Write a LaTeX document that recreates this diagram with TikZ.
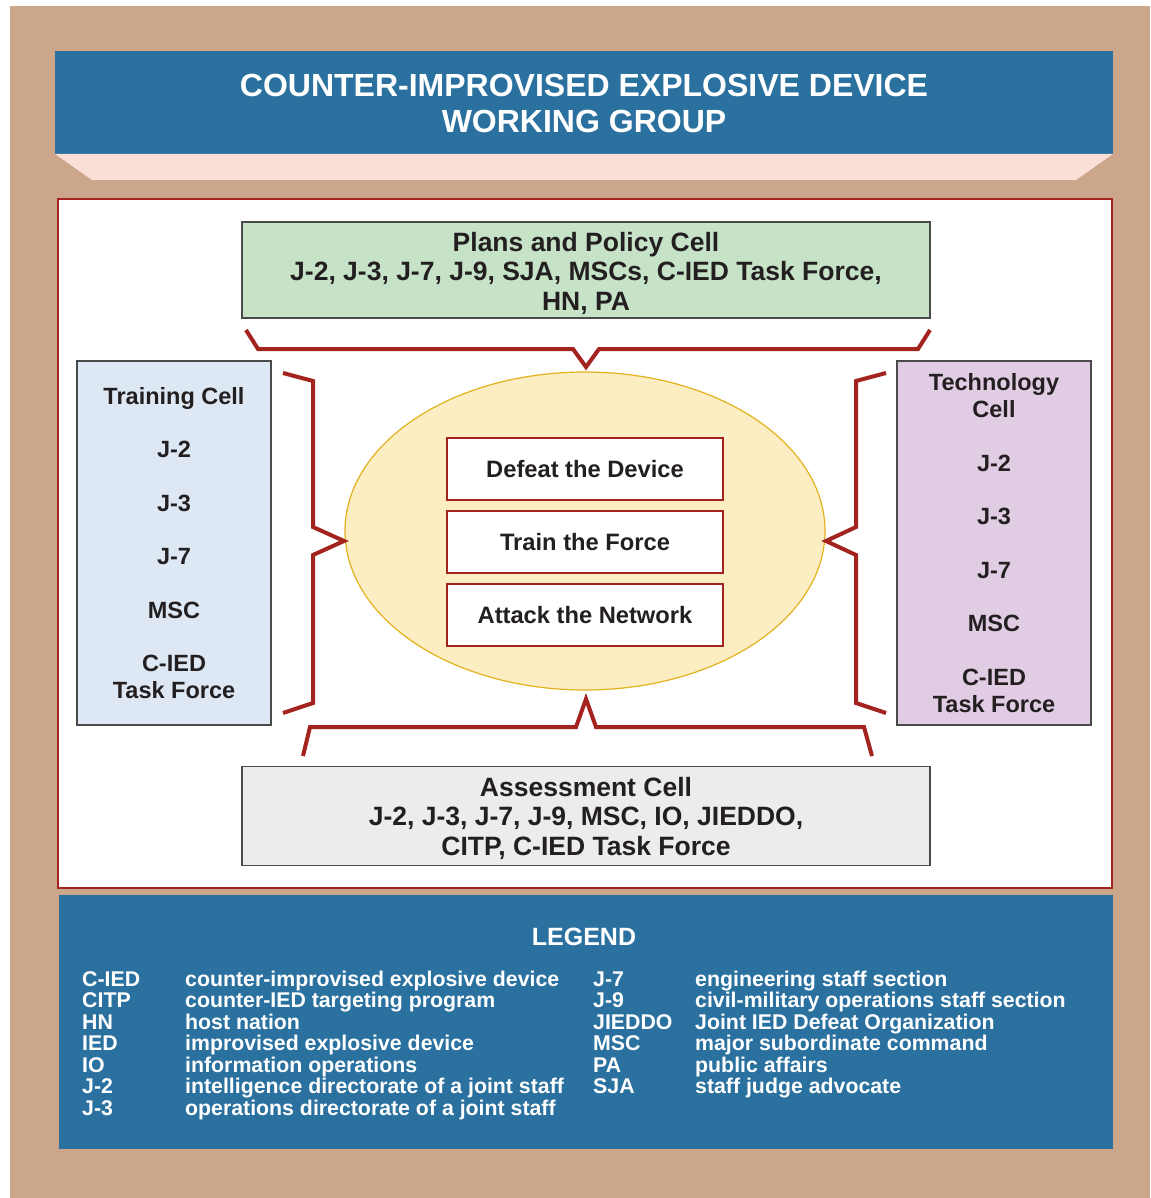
\documentclass[tikz,border=0pt]{standalone}
\usepackage{fontspec}
\setmainfont{Liberation Sans}
\usetikzlibrary{shapes.geometric}
\definecolor{tanbg}{HTML}{CCA68A}
\definecolor{titleblue}{HTML}{2B71A0}
\definecolor{pinkband}{HTML}{F9DFD5}
\definecolor{redline}{HTML}{A3231F}
\definecolor{boxline}{HTML}{4A4A4A}
\definecolor{inktext}{HTML}{231F20}
\definecolor{plansfill}{HTML}{C6E3C8}
\definecolor{trainfill}{HTML}{DEE8F5}
\definecolor{techfill}{HTML}{E0CCE3}
\definecolor{assessfill}{HTML}{ECECEC}
\definecolor{ovalfill}{HTML}{FDEDC3}
\definecolor{ovalline}{HTML}{E2B21C}
\newcommand{\cellgap}{26.5pt}

\begin{document}
\begin{tikzpicture}[x=1pt, y=-1pt,
    cellbox/.style={draw=boxline, line width=1.2pt, inner sep=0pt, align=center, text=inktext,
        font=\fontsize{26.5}{29.5}\selectfont\bfseries},
    sidebox/.style={cellbox, minimum width=194pt, minimum height=364pt,
        font=\fontsize{23.5}{27}\selectfont\bfseries},
    taskbox/.style={draw=redline, line width=2pt, fill=white, minimum width=276pt, minimum height=62pt,
        text=inktext, font=\fontsize{23.7}{27}\selectfont\bfseries},
    brace/.style={draw=redline, line width=4pt, line join=miter},
    legtext/.style={anchor=base west, inner sep=0pt, text=white, font=\fontsize{21.3}{21.5}\selectfont\bfseries}]

    % background
    \fill[white] (0,0) rectangle (1150,1198);
    \fill[tanbg] (10,6) rectangle (1150,1198);
    \fill[titleblue] (55,51) rectangle (1113,154);
    \fill[pinkband] (55,154) -- (1113,154) -- (1076,180) -- (92,180) -- cycle;
    \node[align=center, text=white, font=\fontsize{32}{36}\selectfont\bfseries] (title) at (584,103)
        {COUNTER-IMPROVISED EXPLOSIVE DEVICE\\WORKING GROUP};
    \draw[redline, fill=white, line width=2pt] (58,199) rectangle (1112,888);

    % cells
    \node[cellbox, fill=plansfill, minimum width=688pt, minimum height=96pt] (plans) at (586,270) {};
    \node[align=center, text=inktext, font=\fontsize{26.5}{29.5}\selectfont\bfseries] (planstext) at (586,273)
        {Plans and Policy Cell\\J-2, J-3, J-7, J-9, SJA, MSCs, C-IED Task Force,\\HN, PA};
    \node[sidebox, fill=trainfill] (training) at (174,543)
        {Training Cell\\[\cellgap]J-2\\[\cellgap]J-3\\[\cellgap]J-7\\[\cellgap]MSC\\[\cellgap]C-IED\\Task Force};
    \node[sidebox, fill=techfill] (tech) at (994,543)
        {Technology\\Cell\\[\cellgap]J-2\\[\cellgap]J-3\\[\cellgap]J-7\\[\cellgap]MSC\\[\cellgap]C-IED\\Task Force};
    \node[cellbox, fill=assessfill, minimum width=688pt, minimum height=99pt] (assess) at (586,816) {};
    \node[align=center, text=inktext, font=\fontsize{26.5}{29.5}\selectfont\bfseries] (assesstext) at (586,818)
        {Assessment Cell\\J-2, J-3, J-7, J-9, MSC, IO, JIEDDO,\\CITP, C-IED Task Force};

    % lines of effort
    \node[ellipse, draw=ovalline, fill=ovalfill, line width=1.2pt, minimum width=480pt, minimum height=318pt] (oval) at (585,531) {};
    \node[taskbox] (defeat) at (585,469) {Defeat the Device};
    \node[taskbox] (train) at (585,542) {Train the Force};
    \node[taskbox] (attack) at (585,615) {Attack the Network};

    % braces
    \draw[brace] (246,330) -- (258,349) -- (573,349) -- (586,367) -- (599,349) -- (918,349) -- (930,330);
    \draw[brace] (283,373) -- (313,381) -- (313,527) -- (344,541) -- (313,555) -- (313,703) -- (283,713);
    \draw[brace] (886,373) -- (856,381) -- (856,527) -- (826,541) -- (856,555) -- (856,703) -- (886,713);
    \draw[brace] (303,756) -- (310,727) -- (576,727) -- (586,699) -- (596,727) -- (864,727) -- (872,756);

    % legend
    \fill[titleblue] (59,895) rectangle (1113,1149);
    \node[text=white, font=\fontsize{25}{30}\selectfont\bfseries] (legend) at (584,937) {LEGEND};
    \foreach \shortname/\longname [count=\i] in {C-IED/counter-improvised explosive device,
        CITP/counter-IED targeting program, HN/host nation, IED/improvised explosive device,
        IO/information operations, J-2/intelligence directorate of a joint staff,
        J-3/operations directorate of a joint staff}{
        \node[legtext] (abbrL\i) at (82,{979+21.5*(\i-1)+7}) {\shortname};
        \node[legtext] (textL\i) at (185,{979+21.5*(\i-1)+7}) {\longname};
    }
    \foreach \shortname/\longname [count=\i] in {J-7/engineering staff section,
        J-9/civil-military operations staff section, JIEDDO/Joint IED Defeat Organization,
        MSC/major subordinate command, PA/public affairs, SJA/staff judge advocate}{
        \node[legtext] (abbrR\i) at (593,{979+21.5*(\i-1)+7}) {\shortname};
        \node[legtext] (textR\i) at (695,{979+21.5*(\i-1)+7}) {\longname};
    }
\end{tikzpicture}
\end{document}
